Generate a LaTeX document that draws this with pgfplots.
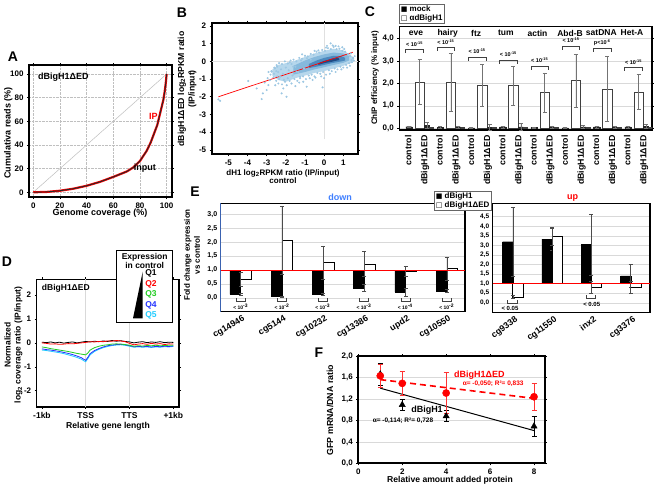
\documentclass[border=0pt]{standalone}
\usepackage{fontspec}
\setmainfont{Liberation Sans}
\newfontfamily\dejavu{DejaVu Sans}
\usepackage{pgfplots}
\pgfplotsset{compat=1.18}
\newcommand{\fs}[1]{\fontsize{#1}{#1}\selectfont}
\newcommand{\pe}{< 10\textsuperscript{-15}}
\definecolor{sc1}{HTML}{B6D7EC}
\definecolor{sc2}{HTML}{86B9DC}
\definecolor{sc3}{HTML}{4C89BE}
\definecolor{sc4}{HTML}{1E4C86}
\definecolor{ptc}{HTML}{9CC7E3}
\definecolor{qgreen}{HTML}{22CC22}
\definecolor{qblue}{HTML}{2233FF}
\definecolor{qcyan}{HTML}{22CCFF}
\definecolor{dblue}{HTML}{3F7FFF}
\definecolor{axblue}{HTML}{3A62B0}
\pgfplotsset{
  base/.style={scale only axis, anchor=north west,
    axis line style={line width=1.6pt},
    tick style={black, line width=0.5pt},
    tick align=outside, major tick length=2pt,
    /pgf/number format/assume math mode=true,
    tick label style={font=\bfseries\fs{8}}},
  ebar/.style={/pgfplots/error bars/y dir=both, /pgfplots/error bars/y explicit,
    /pgfplots/error bars/error bar style={#1, line width=0.5pt},
    /pgfplots/error bars/error mark options={rotate=90, mark size=2pt, #1, line width=0.5pt}},
}
\begin{document}
\begin{tikzpicture}
\useasboundingbox (0,0) rectangle (654pt,-488pt);
\fill[white] (0,0) rectangle (654pt,-488pt);

% ---------------- A ----------------
\begin{axis}[base, at={(29pt,-65pt)}, width=143pt, height=132pt,
  xmin=-3.2, xmax=104, ymin=-4, ymax=107.6,
  xtick={0,20,...,100}, ytick={0,20,...,100},
  grid=major, grid style={densely dotted, black!25, line width=0.4pt}]
\addplot[black!25, line width=0.5pt] coordinates {(0,0)(100,100)};
\addplot[red, line width=2.2pt] coordinates {(0,0)(10,0.3)(20,1.3)(30,3)(40,5.5)(50,8.8)(60,13)(70,17.5)(75,21)(80,26.5)(85,35)(88,42)(91,51)(93,57)(94.5,64)(96,71)(97.5,78)(98.5,85)(99.3,92)(100,100)};
\addplot[black!85, line width=0.9pt] coordinates {(0,0)(10,0.3)(20,1.3)(30,3)(40,5.5)(50,8.8)(60,13)(70,17.5)(75,21)(80,26.5)(85,35)(88,42)(91,51)(93,57)(94.5,64)(96,71)(97.5,78)(98.5,85)(99.3,92)(100,100)};
\node[font=\bfseries\fs{9}, anchor=west] at (axis cs:1,97) {dBigH1ΔED};
\node[red, font=\bfseries\fs{9}] at (axis cs:90,64) {IP};
\node[font=\bfseries\fs{9}] at (axis cs:83.7,20) {input};
\end{axis}
\node[font=\bfseries\fs{9}] at (100pt,-213pt) {Genome coverage (\%)};
\node[rotate=90, font=\bfseries\fs{9}] at (8.3pt,-133pt) {Cumulativa reads (\%)};
\node[font=\bfseries\fs{14}] at (13pt,-57pt) {A};

% ---------------- B ----------------
\begin{axis}[base, at={(211.7pt,-22.7pt)}, width=146.3pt, height=131.3pt,
  xmin=-5.87, xmax=1.77, ymin=-5.24, ymax=2.19,
  xtick={-5,...,1}, ytick={-5,...,2}]
\addplot[black!12, line width=0.5pt] coordinates {(0,-4.4)(0,2.19)};
\addplot[black!12, line width=0.5pt] coordinates {(-5.87,0)(1.77,0)};
\addplot[fill=sc1, draw=none] coordinates {(-2.7,-0.45)(-2.4,-0.2)(-2,-0.1)(-1.5,0.05)(-1,0.25)(-0.5,0.45)(0,0.6)(0.5,0.72)(1,0.62)(1.4,0.35)(1.55,0.15)(1.5,-0.05)(1.0,-0.25)(0.5,-0.4)(0,-0.55)(-0.5,-0.65)(-1,-0.8)(-1.5,-0.95)(-2,-1.15)(-2.4,-1.05)(-2.7,-0.8)};
\addplot[only marks, mark=*, mark size=0.8pt, color=ptc, mark options={draw=none, fill=ptc}] coordinates {
(-5.52,-2.15)(-5.43,-2.23)(-3.96,-1.11)(-3.52,-1.53)(-3.26,-2.13)(-3.2,-1.81)(-3.0,-1.62)(-2.91,-1.34)(-2.83,-1.06)(-2.74,-0.58)(-2.57,-0.40)(-2.48,-0.21)(-2.3,-0.87)(-2.39,-1.25)(-2.22,-1.81)(-2.13,-1.53)(-2.04,-1.15)(-1.96,-2.0)(-1.61,-0.30)(-1.43,-0.58)(-1.26,-0.87)(-1.09,-1.15)(-0.91,-1.43)(-0.08,-1.47)(0.34,1.02)(1.43,0.08)(1.52,0.17)
(-2.6,-0.35)(-2.45,-0.3)(-2.35,-0.1)(-2.2,-0.15)(-2.05,0.0)(-1.9,-0.12)(-1.75,0.05)(-1.6,0.1)(-1.45,0.0)(-1.3,0.2)(-1.15,0.15)(-1.0,0.32)(-0.85,0.28)(-0.7,0.42)(-0.55,0.38)(-0.4,0.55)(-0.25,0.5)(-0.1,0.65)(0.05,0.6)(0.2,0.75)(0.35,0.7)(0.5,0.82)(0.65,0.7)(0.8,0.72)(0.95,0.6)(1.1,0.55)(1.25,0.42)(1.35,0.3)(1.5,0.22)(0.6,0.88)(0.1,0.78)
(-2.65,-0.9)(-2.5,-1.1)(-2.35,-1.0)(-2.2,-1.3)(-2.1,-1.05)(-1.95,-1.35)(-1.8,-1.1)(-1.7,-1.25)(-1.55,-1.0)(-1.4,-1.1)(-1.25,-0.95)(-1.1,-0.85)(-0.95,-1.0)(-0.8,-0.8)(-0.65,-0.75)(-0.5,-0.85)(-0.35,-0.65)(-0.2,-0.7)(-0.05,-0.6)(0.1,-0.75)(0.25,-0.5)(0.4,-0.55)(0.55,-0.4)(0.7,-0.45)(0.85,-0.3)(1.0,-0.35)(1.15,-0.2)(1.3,-0.1)(1.45,-0.05)(0.0,-0.95)(-0.6,-1.05)(-1.5,-1.4)(-2.55,-1.35)(-2.8,-0.75)(-2.95,-0.95)(-3.1,-1.2)
(-2.75,-0.55)(-2.62,-0.7)(-2.5,-0.55)(-2.45,-0.85)(-2.25,-0.45)(-2.15,-0.7)(-2.0,-0.35)(-1.9,-0.95)(-1.85,-0.5)(-1.7,-0.15)(-1.65,-0.8)(-1.5,-0.3)(-1.35,-0.6)(-1.3,-1.2)(-1.2,0.05)(-1.05,-0.4)(-0.9,0.18)(-0.75,-0.95)(-0.7,0.1)(-0.45,-0.92)(-0.3,0.62)(-0.15,-0.85)(0.15,0.88)(0.3,-0.7)(0.45,0.9)(0.6,-0.6)(0.75,0.85)(0.9,-0.45)(1.05,0.7)(1.2,-0.35)(1.4,0.45)(1.55,0.05)(1.6,0.3)(1.35,-0.25)(0.95,0.8)(-0.5,0.6)(-1.15,0.4)(-1.8,-0.05)(-2.4,-0.6)(-2.9,-0.6)
};
\addplot[fill=sc2, draw=none] coordinates {(-1.6,-0.25)(-1,0.05)(-0.5,0.25)(0,0.4)(0.5,0.5)(1.0,0.45)(1.3,0.3)(1.3,0.05)(1.0,-0.08)(0.5,-0.2)(0,-0.33)(-0.5,-0.45)(-1,-0.6)(-1.6,-0.75)};
\addplot[fill=sc3, draw=none] coordinates {(-0.8,-0.15)(-0.4,0.05)(0,0.2)(0.5,0.32)(0.9,0.3)(1.1,0.2)(1.1,0.05)(0.8,-0.02)(0.4,-0.1)(0,-0.2)(-0.4,-0.3)(-0.8,-0.38)};
\addplot[fill=sc4, draw=none] coordinates {(-0.3,-0.1)(0,0.03)(0.4,0.15)(0.75,0.2)(0.8,0.08)(0.4,-0.02)(0,-0.1)(-0.3,-0.2)};
\addplot[red, line width=0.7pt] coordinates {(-5.52,-2.0)(1.5,0.52)};
\end{axis}
\node[rotate=90, align=center, font=\bfseries\fontsize{8.7}{10.5}\selectfont] at (187pt,-89pt) {dBigH1ΔED log\textsubscript{2}RPKM ratio\\(IP/input)};
\node[align=center, font=\bfseries\fontsize{8}{8.6}\selectfont] at (283pt,-176.5pt) {dH1 log\textsubscript{2}RPKM ratio (IP/input)\\control};
\node[font=\bfseries\fs{14}] at (182pt,-13pt) {B};

% ---------------- C ----------------
\begin{axis}[base, at={(399.3pt,-26.7pt)}, width=252.7pt, height=103.3pt,
  axis line style={line width=1.4pt},
  xmin=-0.287, xmax=7.79, ymin=-0.076, ymax=4.52,
  ytick={0,1,2,3,4}, ymajorgrids, grid style={black!15, line width=0.5pt},
  yticklabel style={/pgf/number format/.cd, use comma, fixed, fixed zerofill, precision=1},
  xtick={0,0.54,1,1.54,2,2.54,3,3.54,4,4.54,5,5.54,6,6.54,7,7.54},
  xticklabels={control,dBigH1ΔED,control,dBigH1ΔED,control,dBigH1ΔED,control,dBigH1ΔED,control,dBigH1ΔED,control,dBigH1ΔED,control,dBigH1ΔED,control,dBigH1ΔED},
  x tick style={draw=none},
  xticklabel style={rotate=90, anchor=east, font=\bfseries\fs{8.8}}]
\addplot[ybar, bar shift=0, bar width=0.2, fill=black!85, draw=black!85, line width=0.4pt, ebar=black!55] coordinates {(0.02,0.07)+-(0,0.04) (1.02,0.05)+-(0,0.03) (2.02,0.02)+-(0,0.02) (3.02,0.06)+-(0,0.04) (4.02,0.03)+-(0,0.02) (5.02,0.02)+-(0,0.02) (6.02,0.06)+-(0,0.04) (7.02,0.06)+-(0,0.05)};
\addplot[ybar, bar shift=0, bar width=0.3, fill=white, draw=black!75, line width=0.6pt, ebar=black!55] coordinates {(0.36,2.05)+-(0,1.0) (1.36,2.05)+-(0,1.3) (2.36,1.9)+-(0,0.93) (3.36,1.9)+-(0,0.87) (4.36,1.6)+-(0,0.87) (5.36,2.13)+-(0,1.18) (6.36,1.75)+-(0,1.45) (7.36,1.62)+-(0,0.77)};
\addplot[ybar, bar shift=0, bar width=0.16, fill=black!85, draw=black!85, line width=0.4pt, ebar=black!55] coordinates {(0.6,0.12)+-(0,0.13) (1.6,0.06)+-(0,0.05) (2.6,0.05)+-(0,0.12) (3.6,0.06)+-(0,0.15) (4.6,0.06)+-(0,0.05) (5.6,0.06)+-(0,0.06) (6.6,0.04)+-(0,0.05) (7.6,0.08)+-(0,0.1)};
\addplot[ybar, bar shift=0, bar width=0.12, fill=white, draw=black!75, line width=0.4pt] coordinates {(0.74,0.03)(1.74,0.03)(2.74,0.03)(3.74,0.03)(4.74,0.03)(5.74,0.03)(6.74,0.03)(7.74,0.03)};
\node[font=\bfseries\fs{8.5}] at (axis cs:0.245,4.24) {eve};
\node[font=\bfseries\fs{8.5}] at (axis cs:1.26,4.24) {hairy};
\node[font=\bfseries\fs{8.5}] at (axis cs:2.17,4.24) {ftz};
\node[font=\bfseries\fs{8.5}] at (axis cs:3.12,4.24) {tum};
\node[font=\bfseries\fs{8.5}] at (axis cs:4.13,4.24) {actin};
\node[font=\bfseries\fs{8.5}] at (axis cs:5.17,4.24) {Abd-B};
\node[font=\bfseries\fs{8.5}] at (axis cs:6.17,4.24) {satDNA};
\node[font=\bfseries\fs{8.5}] at (axis cs:7.15,4.24) {Het-A};
\draw[black!75, line width=0.6pt] (axis cs:-0.08,3.35) -- (axis cs:-0.08,3.52) -- (axis cs:0.48,3.52) -- (axis cs:0.48,3.35);
\node[font=\bfseries\fs{5.5}] at (axis cs:0.2,3.76) {\pe};
\draw[black!75, line width=0.6pt] (axis cs:0.92,3.44) -- (axis cs:0.92,3.61) -- (axis cs:1.48,3.61) -- (axis cs:1.48,3.44);
\node[font=\bfseries\fs{5.5}] at (axis cs:1.2,3.85) {\pe};
\draw[black!75, line width=0.6pt] (axis cs:1.92,3.0) -- (axis cs:1.92,3.17) -- (axis cs:2.48,3.17) -- (axis cs:2.48,3.0);
\node[font=\bfseries\fs{5.5}] at (axis cs:2.2,3.41) {\pe};
\draw[black!75, line width=0.6pt] (axis cs:2.92,2.87) -- (axis cs:2.92,3.04) -- (axis cs:3.48,3.04) -- (axis cs:3.48,2.87);
\node[font=\bfseries\fs{5.5}] at (axis cs:3.2,3.28) {\pe};
\draw[black!75, line width=0.6pt] (axis cs:3.92,2.6) -- (axis cs:3.92,2.77) -- (axis cs:4.48,2.77) -- (axis cs:4.48,2.6);
\node[font=\bfseries\fs{5.5}] at (axis cs:4.2,3.01) {\pe};
\draw[black!75, line width=0.6pt] (axis cs:4.92,3.49) -- (axis cs:4.92,3.66) -- (axis cs:5.48,3.66) -- (axis cs:5.48,3.49);
\node[font=\bfseries\fs{5.5}] at (axis cs:5.2,3.9) {\pe};
\draw[black!75, line width=0.6pt] (axis cs:5.92,3.4) -- (axis cs:5.92,3.57) -- (axis cs:6.48,3.57) -- (axis cs:6.48,3.4);
\node[font=\bfseries\fs{5.5}] at (axis cs:6.2,3.81) {p<10\textsuperscript{-6}};
\draw[black!75, line width=0.6pt] (axis cs:6.92,2.55) -- (axis cs:6.92,2.72) -- (axis cs:7.48,2.72) -- (axis cs:7.48,2.55);
\node[font=\bfseries\fs{5.5}] at (axis cs:7.2,2.96) {\pe};
\end{axis}
\node[rotate=90, font=\bfseries\fs{8}] at (375pt,-78pt) {ChIP efficiency (\% input)};
\node[draw=black!60, fill=white, line width=0.6pt, anchor=north west, inner sep=1.5pt, align=left, font=\bfseries\fontsize{8}{8.5}\selectfont] at (399pt,-4pt) {{\dejavu\fs{7}■} mock\\{\dejavu\fs{7}□} αdBigH1};
\node[font=\bfseries\fs{14}] at (370pt,-12pt) {C};

% ---------------- D ----------------
\begin{axis}[base, at={(36.7pt,-279.3pt)}, width=142.3pt, height=127.4pt,
  xmin=-0.12, xmax=3.13, ymin=-2.67, ymax=2.66,
  xtick={0,1,2,3}, xticklabels={-1kb,TSS,TTS,+1kb}, ytick={-2,-1,0,1,2},
  xticklabel style={font=\bfseries\fs{8.5}},
  extra x ticks={1,2}, extra x tick labels={}, extra x tick style={grid=major, major grid style={black!15, line width=0.5pt}, major tick length=0pt}]
\addplot[qcyan, line width=0.8pt] coordinates {(0,-0.3)(0.1,-0.32)(0.2,-0.35)(0.3,-0.38)(0.4,-0.41)(0.5,-0.45)(0.6,-0.5)(0.7,-0.55)(0.8,-0.61)(0.9,-0.68)(0.95,-0.74)(1.0,-0.79)(1.05,-0.65)(1.1,-0.5)(1.2,-0.36)(1.3,-0.27)(1.4,-0.2)(1.5,-0.15)(1.6,-0.11)(1.7,-0.09)(1.8,-0.08)(1.9,-0.1)(2.0,-0.14)(2.1,-0.18)(2.2,-0.17)(2.3,-0.18)(2.4,-0.17)(2.5,-0.19)(2.6,-0.17)(2.7,-0.18)(2.8,-0.16)(2.9,-0.17)(3.0,-0.15)};
\addplot[qblue, line width=0.8pt] coordinates {(0,-0.25)(0.1,-0.28)(0.2,-0.3)(0.3,-0.33)(0.4,-0.36)(0.5,-0.4)(0.6,-0.44)(0.7,-0.49)(0.8,-0.55)(0.9,-0.62)(0.95,-0.68)(1.0,-0.73)(1.05,-0.6)(1.1,-0.45)(1.2,-0.32)(1.3,-0.24)(1.4,-0.17)(1.5,-0.12)(1.6,-0.09)(1.7,-0.07)(1.8,-0.06)(1.9,-0.08)(2.0,-0.12)(2.1,-0.16)(2.2,-0.15)(2.3,-0.16)(2.4,-0.15)(2.5,-0.17)(2.6,-0.15)(2.7,-0.16)(2.8,-0.14)(2.9,-0.15)(3.0,-0.13)};
\addplot[qgreen, line width=0.8pt] coordinates {(0,-0.17)(0.1,-0.2)(0.2,-0.24)(0.3,-0.27)(0.4,-0.3)(0.5,-0.33)(0.6,-0.36)(0.7,-0.4)(0.8,-0.44)(0.9,-0.47)(1.0,-0.5)(1.05,-0.42)(1.1,-0.3)(1.2,-0.2)(1.3,-0.14)(1.4,-0.1)(1.5,-0.08)(1.6,-0.05)(1.7,-0.04)(1.8,-0.05)(1.9,-0.07)(2.0,-0.1)(2.1,-0.14)(2.2,-0.12)(2.3,-0.13)(2.4,-0.11)(2.5,-0.12)(2.6,-0.1)(2.7,-0.12)(2.8,-0.11)(2.9,-0.1)(3.0,-0.1)};
\addplot[black, line width=0.8pt] coordinates {(0,0.03)(0.1,0.01)(0.2,0.04)(0.3,0.0)(0.4,0.03)(0.5,-0.01)(0.6,0.02)(0.7,0.04)(0.8,0.0)(0.9,0.03)(1.0,0.06)(1.1,0.04)(1.2,0.07)(1.3,0.05)(1.4,0.08)(1.5,0.06)(1.6,0.1)(1.7,0.07)(1.8,0.09)(1.9,0.06)(2.0,0.04)(2.1,0.0)(2.2,0.03)(2.3,0.05)(2.4,0.01)(2.5,0.04)(2.6,0.02)(2.7,0.05)(2.8,0.01)(2.9,0.03)(3.0,0.02)};
\addplot[red, line width=0.8pt] coordinates {(0,0.0)(0.1,-0.02)(0.2,-0.05)(0.3,-0.04)(0.4,-0.06)(0.5,-0.05)(0.6,-0.03)(0.7,-0.04)(0.8,-0.02)(0.9,0.0)(1.0,0.02)(1.1,0.05)(1.2,0.04)(1.3,0.06)(1.4,0.05)(1.5,0.08)(1.6,0.07)(1.7,0.1)(1.8,0.08)(1.9,0.05)(2.0,-0.02)(2.1,-0.08)(2.2,-0.05)(2.3,-0.03)(2.4,-0.06)(2.5,-0.02)(2.6,-0.05)(2.7,-0.03)(2.8,-0.07)(2.9,-0.04)(3.0,-0.05)};
\node[font=\bfseries\fs{8.5}, anchor=west] at (axis cs:-0.08,2.3) {dBigH1ΔED};
\end{axis}
\node[align=center, font=\bfseries\fontsize{8.5}{10}\selectfont, rotate=90] at (13.5pt,-345pt) {Normalized\\log\textsubscript{2} coverage ratio (IP/input)};
\node[font=\bfseries\fs{8.6}] at (108pt,-426pt) {Relative gene length};
\node[font=\bfseries\fs{14}] at (7pt,-262pt) {D};
\draw[fill=white, line width=0.8pt] (116.7pt,-250pt) rectangle (172.7pt,-322.7pt);
\node[align=center, font=\bfseries\fontsize{8.5}{8.5}\selectfont] at (144.7pt,-261pt) {Expression\\in control};
\fill (142.7pt,-271.7pt) -- (133pt,-318.3pt) -- (142.7pt,-318.3pt) -- cycle;
\node[font=\bfseries\fs{8.5}] at (151pt,-273.3pt) {Q1};
\node[red, font=\bfseries\fs{8.5}] at (151pt,-284pt) {Q2};
\node[qgreen, font=\bfseries\fs{8.5}] at (151pt,-294.3pt) {Q3};
\node[qblue, font=\bfseries\fs{8.5}] at (151pt,-305pt) {Q4};
\node[qcyan, font=\bfseries\fs{8.5}] at (151pt,-315.3pt) {Q5};

% ---------------- E down ----------------
\begin{axis}[base, at={(220.7pt,-203.3pt)}, width=244.3pt, height=108.4pt,
  axis line style={line width=1.4pt}, major tick length=0pt,
  xmin=-0.485, xmax=5.44, ymin=-1.5, ymax=2.4,
  y filter/.expression={y-1},
  ytick={-1,-0.5,0,0.5,1,1.5,2},
  yticklabel={\pgfmathparse{\tick+1}\pgfmathprintnumber[fixed,fixed zerofill,precision=1,use comma]{\pgfmathresult}},
  yticklabel style={font=\bfseries\fs{7}},
  ymajorgrids, grid style={black!15, line width=0.5pt},
  xtick={0,...,5}, xticklabels={cg14946,cg5144,cg10232,cg13386,upd2,cg10550},
  xticklabel style={rotate=30, anchor=north east, xshift=3pt, font=\bfseries\fs{8.8}}]
\addplot[ybar, bar shift=-0.13, bar width=0.26, fill=black, draw=black, ebar=black!70] coordinates {(0,0.12)+-(0,0.03) (1,0.04)+-(0,0.02) (2,0.13)+-(0,0.05) (3,0.36)+-(0,0.13) (4,0.2)+-(0,0.13) (5,0.25)+-(0,0.05)};
\addplot[ybar, bar shift=0.13, bar width=0.26, fill=white, draw=black, line width=0.6pt, ebar=black!70] coordinates {(0,0.67)+-(0,0.25) (1,2.07)+-(0,1.23) (2,1.26)+-(0,0.6) (3,1.22)+-(0,0.45) (4,0.96)+-(0,0.17) (5,1.05)+-(0,0.42)};
\addplot[red, line width=1pt] coordinates {(-0.485,1)(5.44,1)};
\end{axis}
\draw[axblue, line width=1.2pt] (220.7pt,-203.3pt) -- (220.7pt,-311.7pt);
\foreach \cx/\lab in {240.7/3,282/2,322.7/3,364/3,405.3/4,446.7/2}{
  \draw[black!75, line width=0.6pt] (\cx pt-4.5pt,-298pt) -- (\cx pt-4.5pt,-301.5pt) -- (\cx pt+4.5pt,-301.5pt) -- (\cx pt+4.5pt,-298pt);
  \node[font=\bfseries\fs{5}] at (\cx pt,-306.5pt) {< 10\textsuperscript{-\lab}};
}
\node[dblue, font=\bfseries\fs{9}] at (340pt,-197.7pt) {down};

% ---------------- E up ----------------
\begin{axis}[base, at={(492.7pt,-203.3pt)}, width=157.3pt, height=109.4pt,
  axis line style={line width=1.4pt}, major tick length=0pt,
  xmin=-0.51, xmax=3.49, ymin=-1.52, ymax=4.2,
  y filter/.expression={y-1},
  ytick={-1,-0.5,0,0.5,1,1.5,2,2.5,3,3.5},
  yticklabel={\pgfmathparse{\tick+1}\pgfmathprintnumber[fixed,fixed zerofill,precision=1,use comma]{\pgfmathresult}},
  yticklabel style={font=\bfseries\fs{6.5}},
  ymajorgrids, grid style={black!15, line width=0.5pt},
  xtick={0,...,3}, xticklabels={cg9338,cg11550,inx2,cg3376},
  xticklabel style={rotate=36, anchor=north east, xshift=3pt, font=\bfseries\fs{8.8}}]
\addplot[ybar, bar shift=-0.13, bar width=0.26, fill=black, draw=black, ebar=black!70] coordinates {(0,3.19)+-(0,1.8) (1,3.33)+-(0,0.58) (2,3.04)+-(0,1.58) (3,1.41)+-(0,0.61)};
\addplot[ybar, bar shift=0.13, bar width=0.26, fill=white, draw=black, line width=0.6pt, ebar=black!70] coordinates {(0,0.31)+-(0,0.07) (1,3.47)+-(0,0.48) (2,0.81)+-(0,0.3) (3,0.82)+-(0,0.32)};
\addplot[red, line width=1pt] coordinates {(-0.51,1)(3.49,1)};
\end{axis}
\draw[black!75, line width=0.6pt] (507.3pt,-300pt) -- (507.3pt,-303.3pt) -- (517.3pt,-303.3pt) -- (517.3pt,-300pt);
\node[font=\bfseries\fs{6}] at (510pt,-308pt) {< 0.05};
\draw[black!75, line width=0.6pt] (586.7pt,-295pt) -- (586.7pt,-298.3pt) -- (595.7pt,-298.3pt) -- (595.7pt,-295pt);
\node[font=\bfseries\fs{6}] at (591.7pt,-304pt) {< 0.05};
\node[red, font=\bfseries\fs{9}] at (572.7pt,-198.3pt) {up};
\node[draw=black!60, fill=white, line width=0.6pt, anchor=north west, inner sep=1.5pt, align=left, font=\bfseries\fontsize{8}{9}\selectfont] at (434pt,-190.7pt) {{\dejavu\fs{7}■} dBigH1\\{\dejavu\fs{7}□} dBigH1ΔED};
\node[rotate=90, align=center, font=\bfseries\fontsize{8}{10}\selectfont] at (192pt,-255pt) {Fold change expression\\vs control};
\node[font=\bfseries\fs{14}] at (195pt,-192pt) {E};

% ---------------- F ----------------
\begin{axis}[base, at={(358.3pt,-356pt)}, width=186.7pt, height=107.3pt,
  axis line style={line width=1.8pt},
  xmin=0, xmax=8.5, ymin=0, ymax=2,
  xtick={0,2,4,6,8}, ytick={0,0.4,0.8,1.2,1.6,2},
  yticklabel style={/pgf/number format/.cd, use comma, fixed, fixed zerofill, precision=1},
  ymajorgrids, grid style={black!15, line width=0.5pt}, clip=false]
\addplot[black, line width=1pt] coordinates {(1,1.40)(8,0.61)};
\addplot[red, line width=1.6pt, dash pattern=on 6pt off 4pt] coordinates {(1,1.56)(8,1.21)};
\addplot[only marks, mark=triangle*, mark size=3.6pt, black, /pgfplots/error bars/y dir=both, /pgfplots/error bars/y explicit, /pgfplots/error bars/error bar style={black, line width=0.6pt}, /pgfplots/error bars/error mark options={rotate=90, mark size=2.5pt, black, line width=0.6pt}] coordinates {(1,1.66)+-(0,0.2) (2,1.09)+-(0,0.11) (4,0.88)+-(0,0.1) (8,0.69)+-(0,0.19)};
\addplot[only marks, mark=*, mark size=3.6pt, red, /pgfplots/error bars/y dir=both, /pgfplots/error bars/y explicit, /pgfplots/error bars/error bar style={red!80, line width=0.6pt}, /pgfplots/error bars/error mark options={rotate=90, mark size=2.5pt, red!80, line width=0.6pt}] coordinates {(1,1.63)+-(0,0.22) (2,1.49)+-(0,0.22) (4,1.31)+-(0,0.38) (8,1.24)+-(0,0.26)};
\node[red, font=\bfseries\fs{9}, anchor=west] at (axis cs:4.2,1.64) {dBigH1ΔED};
\node[red, font=\bfseries\fs{6.5}, anchor=west] at (axis cs:4.6,1.48) {α= -0,050; R²= 0,833};
\node[font=\bfseries\fs{9}, anchor=west] at (axis cs:2.25,0.99) {dBigH1};
\node[font=\bfseries\fs{6.5}, anchor=west] at (axis cs:0.5,0.79) {α= -0,114; R²= 0,728};
\end{axis}
\node[font=\bfseries\fs{8.6}] at (450pt,-480.5pt) {Relative amount added protein};
\node[rotate=90, font=\bfseries\fs{8.8}] at (330pt,-410pt) {GFP mRNA/DNA ratio};
\node[font=\bfseries\fs{14}] at (319pt,-353pt) {F};
\end{tikzpicture}
\end{document}
